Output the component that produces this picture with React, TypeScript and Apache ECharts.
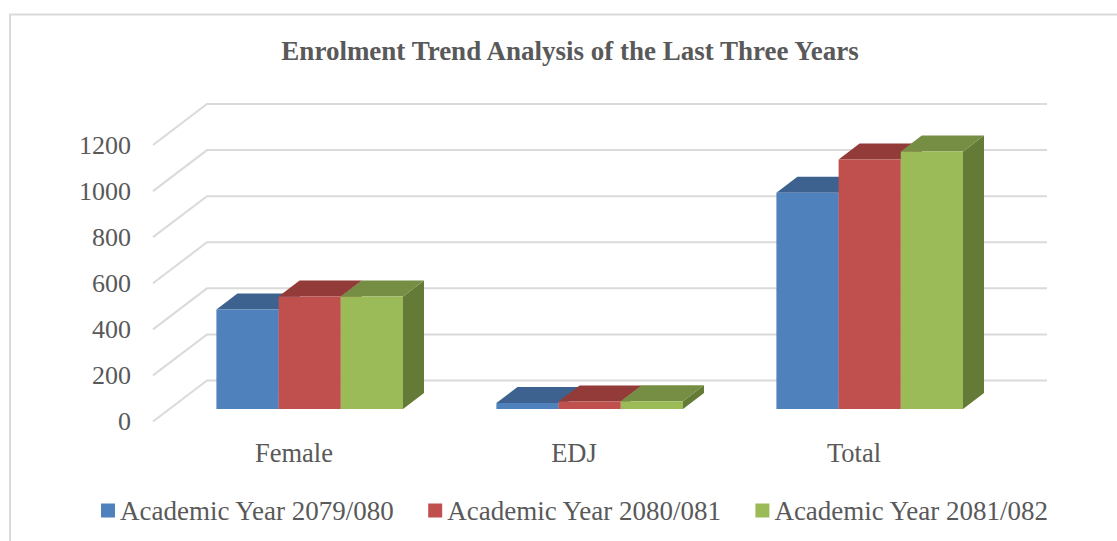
import React, { useEffect, useRef } from "react";
import * as echarts from "echarts";

const categories = ["Female", "EDJ", "Total"];
const yTicks = [0, 200, 400, 600, 800, 1000, 1200];
const year2079 = [432, 26, 938];
const year2080 = [488, 33, 1083];
const year2081 = [488, 34, 1117];
const seriesNames = ["Academic Year 2079/080", "Academic Year 2080/081", "Academic Year 2081/082"];
const seriesValues = [year2079, year2080, year2081];
const frontColors = ["#4F81BD", "#C0504D", "#9BBB59"];
const topColors = ["#3E6290", "#923B39", "#768E44"];
const sideColors = ["#34527A", "#7C3230", "#647A37"];

const FONT = '"Liberation Serif", "Times New Roman", serif';
const TEXT = "#595959";
const GRID = "#DADADA";
const WALL_DX = 54;
const WALL_DY = 41;
const BAR_W = 62.2;
const BAR_SHIFT_X = 16.7 - BAR_W * 1.5;
const BAR_SHIFT_Y = 12.5;
const DEPTH_DX = 21;
const DEPTH_DY = 16;

const renderWall = (params: any, api: any) => {
  const cs = params.coordSys;
  const y = api.coord([0, api.value(1)])[1];
  return {
    type: "polyline",
    silent: true,
    shape: {
      points: [
        [cs.x, y],
        [cs.x + WALL_DX, y - WALL_DY],
        [cs.x + cs.width + WALL_DX, y - WALL_DY],
      ],
    },
    style: { fill: "none", stroke: GRID, lineWidth: 2 },
  };
};

const makeBarRenderer = (idx: number) => (_params: any, api: any) => {
  const top = api.coord([api.value(0), api.value(1)]);
  const base = api.coord([api.value(0), 0]);
  const l = top[0] + BAR_SHIFT_X + idx * BAR_W;
  const r = l + BAR_W;
  const t = top[1] - BAR_SHIFT_Y;
  const b = base[1] - BAR_SHIFT_Y;
  return {
    type: "group",
    silent: true,
    children: [
      {
        type: "polygon",
        shape: { points: [[r, t], [r + DEPTH_DX, t - DEPTH_DY], [r + DEPTH_DX, b - DEPTH_DY], [r, b]] },
        style: { fill: sideColors[idx] },
      },
      {
        type: "polygon",
        shape: { points: [[l, t], [l + DEPTH_DX, t - DEPTH_DY], [r + DEPTH_DX, t - DEPTH_DY], [r, t]] },
        style: { fill: topColors[idx] },
      },
      {
        type: "rect",
        shape: { x: l, y: t, width: BAR_W, height: b - t },
        style: { fill: frontColors[idx] },
      },
    ],
  };
};

export default function App() {
  const ref = useRef<HTMLDivElement>(null);
  useEffect(() => {
    const chart = echarts.init(ref.current!, undefined, { renderer: "svg" });
    chart.setOption({
      animation: false,
      backgroundColor: "#FFFFFF",
      title: {
        text: "Enrolment Trend Analysis of the Last Three Years",
        left: 565,
        top: 32.5,
        textAlign: "center",
        textStyle: { fontFamily: FONT, fontSize: 27, fontWeight: "bold", color: TEXT },
      },
      graphic: [
        {
          type: "polyline",
          silent: true,
          shape: { points: [[10, 541], [10, 14.5], [1117, 14.5]] },
          style: { fill: "none", stroke: GRID, lineWidth: 2 },
        },
      ],
      legend: {
        data: seriesNames,
        left: 101,
        top: 497,
        icon: "rect",
        itemWidth: 14,
        itemHeight: 14,
        itemGap: 33.5,
        padding: 0,
        textStyle: { fontFamily: FONT, fontSize: 27, color: TEXT },
      },
      grid: { left: 153, top: 145, width: 840, height: 276.5, containLabel: false },
      xAxis: {
        type: "category",
        data: categories,
        axisLine: { show: false },
        axisTick: { show: false },
        splitLine: { show: false },
        axisLabel: { fontFamily: FONT, fontSize: 26.5, color: TEXT, margin: 18, padding: [0, 0, 0, 2] },
      },
      yAxis: {
        type: "value",
        min: 0,
        max: 1200,
        interval: 200,
        axisLine: { show: false },
        axisTick: { show: false },
        splitLine: { show: false },
        axisLabel: {
          fontFamily: FONT,
          fontSize: 26,
          color: TEXT,
          margin: 22,
          padding: [3, 0, 0, 0],
          formatter: (v: number) => String(v),
        },
      },
      series: [
        {
          type: "custom",
          name: "wall",
          renderItem: renderWall,
          encode: { x: 0, y: 1 },
          data: yTicks.map((v) => [0, v]),
          silent: true,
          z: 1,
        },
        ...seriesNames.map((name, i) => ({
          type: "custom",
          name,
          renderItem: makeBarRenderer(i),
          encode: { x: 0, y: 1 },
          itemStyle: { color: frontColors[i] },
          data: seriesValues[i].map((v, c) => [c, v]),
          silent: true,
          z: 2 + i,
        })),
      ],
    });
    return () => chart.dispose();
  }, []);
  return <div ref={ref} style={{ position: "fixed", left: 0, top: 0, width: 1117, height: 541 }} />;
}
